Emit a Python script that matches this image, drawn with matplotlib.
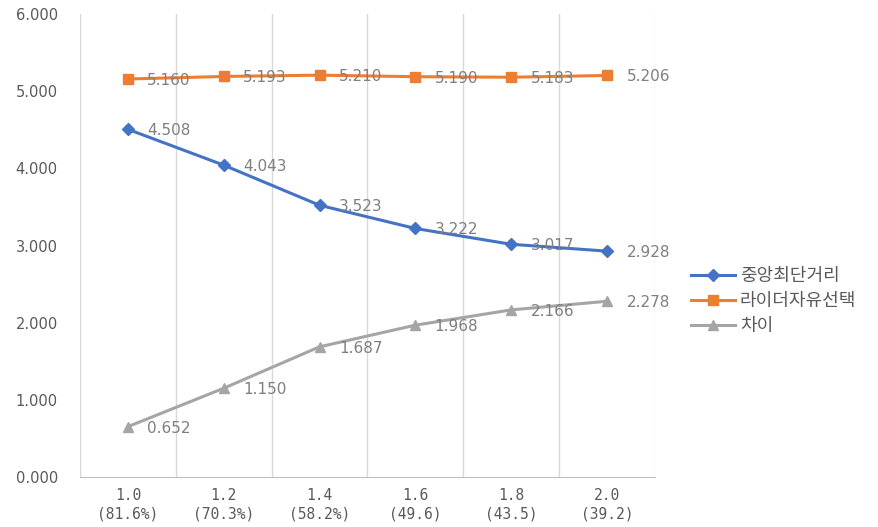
import matplotlib
matplotlib.use('Agg')
import matplotlib.pyplot as plt

plt.rcParams['font.family'] = ['Noto Sans CJK KR', 'DejaVu Sans']

categories = ['1.0\n(81.6%)', '1.2\n(70.3%)', '1.4\n(58.2%)', '1.6\n(49.6)', '1.8\n(43.5)', '2.0\n(39.2)']
center_shortest = [4.508, 4.043, 3.523, 3.222, 3.017, 2.928]
rider_free = [5.160, 5.193, 5.210, 5.190, 5.183, 5.206]
difference = [0.652, 1.150, 1.687, 1.968, 2.166, 2.278]

series = [
    ('중앙최단거리', center_shortest, '#4472C4', 'D', 6),
    ('라이더자유선택', rider_free, '#ED7D31', 's', 7.5),
    ('차이', difference, '#A5A5A5', '^', 7.5),
]

fig = plt.figure(figsize=(8.79, 5.27), dpi=100)
ax = fig.add_axes([0.091, 0.095, 0.654, 0.878])

x = list(range(len(categories)))
for name, vals, color, marker, ms in series:
    ax.plot(x, vals, color=color, marker=marker, markersize=ms, linewidth=2.2, label=name)
    for xi, v in zip(x, vals):
        ax.annotate(f'{v:.3f}', (xi, v), xytext=(14, -1), textcoords='offset points',
                    ha='left', va='center', fontsize=11, color='#7f7f7f',
                    family='DejaVu Sans')

ax.set_xlim(-0.5, len(categories) - 0.5)
ax.set_ylim(0, 6)
ax.set_yticks([0, 1, 2, 3, 4, 5, 6])
ax.set_yticklabels([f'{t:.3f}' for t in range(7)], fontsize=10.5, color='#595959',
                   family='DejaVu Sans')
ax.set_xticks(x)
ax.set_xticklabels(categories, fontsize=10.5, color='#595959', family='DejaVu Sans Mono',
                   linespacing=1.3)
ax.tick_params(axis='both', length=0)
ax.tick_params(axis='x', pad=8)
ax.tick_params(axis='y', pad=16)

for b in range(len(categories) + 1):
    ax.axvline(b - 0.5, color='#d9d9d9', linewidth=1, zorder=0)

for s in ['top', 'right', 'left']:
    ax.spines[s].set_visible(False)
ax.spines['bottom'].set_color('#bfbfbf')

ax.legend(loc='center left', bbox_to_anchor=(1.035, 0.38), frameon=False, fontsize=13,
          labelcolor='#595959', handlelength=2.4, labelspacing=0.4, handletextpad=0.3)

fig.savefig('out.png', dpi=100)
